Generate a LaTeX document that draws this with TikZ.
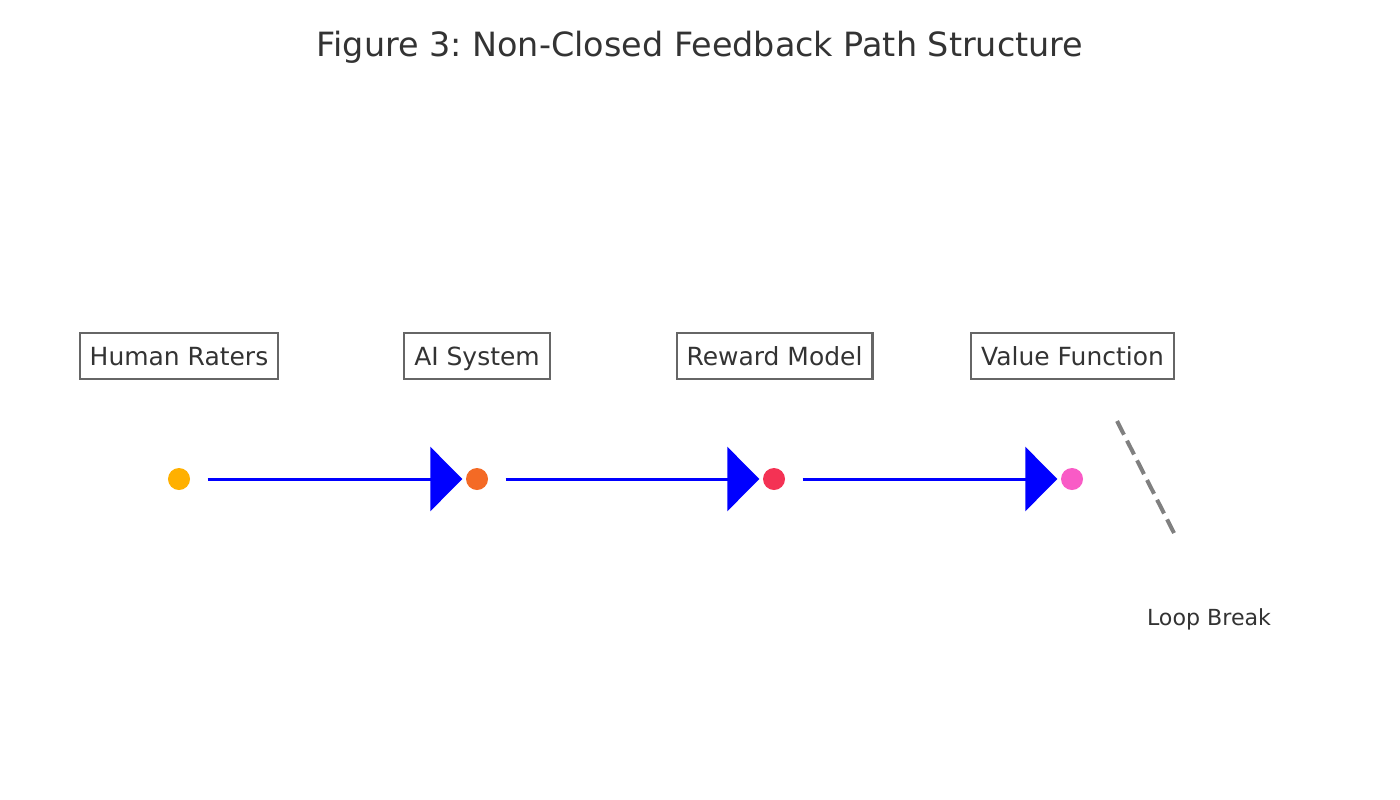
\documentclass[tikz,border=0pt]{standalone}
\usepackage{fontspec}
\setmainfont{DejaVu Sans}
\usetikzlibrary{arrows.meta}
\frenchspacing
\definecolor{txtgray}{HTML}{333333}
\definecolor{boxgray}{HTML}{666666}
\definecolor{brkgray}{HTML}{808080}
\definecolor{hrcol}{HTML}{FFB000}
\definecolor{aicol}{HTML}{F46A25}
\definecolor{rmcol}{HTML}{F43254}
\definecolor{vfcol}{HTML}{F95BC6}

\begin{document}
\begin{tikzpicture}[x=0.01cm, y=-0.01cm,
    box/.style={draw=boxgray, line width=0.6pt, text=txtgray, font=\fontsize{7.1}{8}\selectfont, inner xsep=0.1cm, inner ysep=0pt, text height=0.76em, text depth=0.24em, minimum height=0.46cm},
    dot/.style={circle, inner sep=0pt, minimum size=0.22cm},
    flow/.style={blue, line width=0.85pt, -{Triangle[length=9.1pt,width=18.2pt]}, shorten <=0.17cm, shorten >=0.03cm},
    brk/.style={brkgray, line width=1.14pt, dash pattern=on 4.38pt off 1.9pt}]
        \useasboundingbox (0,0) rectangle (1400,800);
        %%Title
        \node[text=txtgray, font=\fontsize{9.5}{11}\selectfont] (ttl) at (700,47) {Figure 3: Non-Closed Feedback Path Structure};
        %%Labels
        \node[box] (hr) at (179,356) {Human Raters};
        \node[box] (ai) at (477,356) {AI System};
        \node[box] (rm) at (774.5,356) {Reward Model};
        \node[box] (vf) at (1072.5,356) {Value Function};
        %%Stages
        \node[dot, fill=hrcol] (d1) at (179,479) {};
        \node[dot, fill=aicol] (d2) at (477,479) {};
        \node[dot, fill=rmcol] (d3) at (774,479) {};
        \node[dot, fill=vfcol] (d4) at (1072,479) {};
        %%Flow
        \draw[flow] (d1) -- (d2);
        \draw[flow] (d2) -- (d3);
        \draw[flow] (d3) -- (d4);
        %%Break
        \coordinate (b1) at (1117,421);
        \coordinate (b2) at (1174,533);
        \draw[brk] (b1) -- (b2);
        \node[text=txtgray, font=\fontsize{6.3}{7}\selectfont] (lb) at (1209,619) {Loop Break};
    \end{tikzpicture}
\end{document}
